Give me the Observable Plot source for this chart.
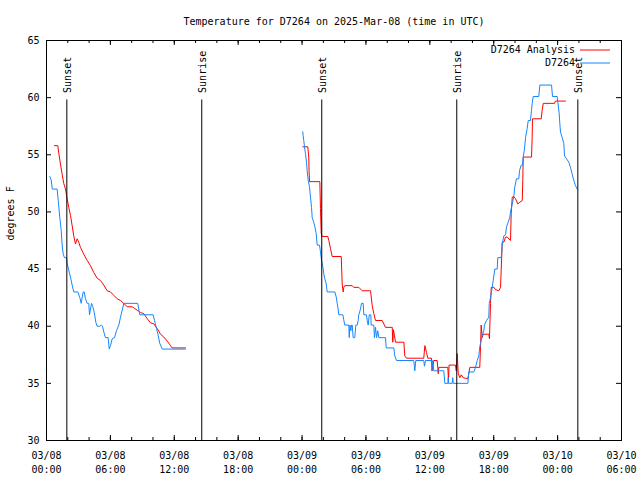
<!DOCTYPE html>
<html><head><meta charset="utf-8">
<script src="https://cdn.jsdelivr.net/npm/d3@7"></script>
<script src="https://cdn.jsdelivr.net/npm/@observablehq/plot@0.6"></script>
<style>body{margin:0;background:#fff} svg{display:block}</style>
</head><body><div id="chart"></div>
<script>
const titleText = "Temperature for D7264 on 2025-Mar-08 (time in UTC)";
const yLabel = "degrees F";
const seriesNames = ["D7264 Analysis", "D7264"];
const seriesColors = ["#ff0000", "#1686ff"];
const startTime = "2025-03-08T00:00:00Z";

// hours since 2025-03-08 00:00 UTC (null = gap in record)
const analysisHours = [0.75,1.06,1.16,1.31,1.47,1.62,1.78,1.94,2.09,2.25,2.41,2.56,2.72,2.88,3.03,3.19,3.5,3.82,4.13,4.44,4.76,5.07,5.38,5.7,6.01,6.32,6.64,6.95,7.26,7.58,8.05,8.52,8.83,9.14,9.46,9.77,10.08,10.4,10.71,11.02,11.34,11.65,11.8,13.05,null,
24.07,24.54,24.63,24.66,24.70,25.67,25.73,25.80,25.89,26.42,26.51,26.67,26.83,27.68,27.77,27.86,27.92,28.01,28.71,28.86,29.33,29.65,30.43,30.59,30.74,30.90,31.53,31.68,31.84,32.47,32.52,32.58,32.78,33.56,33.65,33.81,35.43,35.53,35.69,35.81,36.16,36.22,36.37,36.69,36.79,36.84,37.69,37.75,37.81,38.41,38.48,38.57,38.67,38.82,38.95,39.13,39.35,39.57,39.76,40.69,40.76,40.82,40.92,41.01,41.54,41.60,41.70,41.77,42.02,42.18,42.48,42.64,42.70,42.80,42.95,43.11,43.27,43.58,43.64,43.74,43.89,44.05,44.26,44.45,44.68,44.73,44.77,45.55,45.61,45.64,46.46,46.55,46.65,47.71,47.80,48.74];
const analysisTemps = [55.8,55.8,55.1,54.2,53.3,52.5,52.0,51.15,50.4,49.7,48.8,47.9,47.2,47.65,47.35,46.9,46.3,45.75,45.3,44.7,44.2,44.0,43.6,43.1,43.0,42.7,42.4,42.25,42.0,41.7,41.7,41.4,41.2,41.1,40.65,40.3,40.2,39.8,39.3,39.05,38.7,38.3,38.1,38.1,null,
55.7,55.7,54.8,53.5,52.65,52.65,50.3,48.1,47.85,47.85,47.5,46.8,46.1,46.1,43.7,43.0,43.4,43.55,43.55,43.4,43.4,43.1,43.1,41.8,41.1,40.5,40.5,40.2,39.9,39.9,38.6,39.7,38.6,38.6,37.4,37.2,37.2,38.3,37.7,37.2,37.2,36.1,37.0,37.0,35.85,36.4,36.4,35.25,36.6,36.6,36.1,37.6,35.85,35.5,35.75,35.5,35.45,35.4,36.4,36.4,38.2,40.1,39.0,39.3,39.3,38.9,42.0,43.4,43.4,43.2,43.1,43.4,44.9,47.35,47.35,47.8,47.8,47.5,49.85,51.3,51.35,51.15,50.7,50.85,51.0,52.75,54.8,54.8,56.5,58.15,58.15,58.9,59.5,59.5,59.7,59.7];

const obsHours = [0.31,0.44,0.54,1.0,1.10,1.25,1.38,1.47,1.57,1.69,1.88,1.94,2.09,2.25,2.41,2.56,2.94,3.13,3.26,3.35,3.45,3.54,3.66,3.82,3.97,4.04,4.13,4.23,4.35,4.44,4.54,4.63,4.76,5.01,5.14,5.26,5.38,5.54,5.79,5.89,6.01,6.17,6.39,6.57,6.79,6.95,7.11,7.26,8.57,8.76,10.02,10.14,10.33,10.49,10.64,10.87,13.05,null,
24.07,24.10,24.16,24.23,24.32,24.42,24.48,24.58,24.70,24.79,24.89,24.95,25.10,25.20,25.33,25.42,25.64,25.73,25.83,25.95,26.04,26.14,26.27,26.36,27.08,27.21,27.30,27.39,27.45,27.83,27.92,28.01,28.39,28.43,28.50,28.58,28.65,28.71,28.80,28.95,29.05,29.18,29.27,29.33,29.49,29.58,29.74,29.80,30.05,30.12,30.21,30.31,30.46,30.49,30.74,30.80,30.90,31.00,31.11,31.21,31.84,31.90,32.62,32.71,32.87,34.49,34.59,34.68,35.43,35.50,35.59,36.16,36.20,36.28,36.37,37.31,37.41,37.69,37.73,37.76,38.10,38.15,38.20,39.57,39.66,40.13,40.29,40.45,40.60,40.69,40.82,40.92,41.07,41.13,41.32,41.54,41.58,41.70,41.86,41.95,42.10,42.33,42.38,42.70,42.76,42.80,42.95,43.11,43.20,43.36,43.51,43.58,43.74,43.89,43.98,44.14,44.36,44.42,44.58,44.70,44.77,44.89,44.99,45.14,45.24,45.45,45.55,45.61,45.71,46.23,46.33,47.43,47.52,47.96,48.02,48.15,48.21,48.27,48.43,48.58,48.65,48.84,49.05,49.21,49.37,49.52,49.68,49.84];
const obsTemps = [53.1,52.8,52.0,52.0,51.0,49.5,48.4,47.1,46.3,46.0,46.0,45.5,44.9,44.3,43.6,43.0,43.0,42.5,42.0,42.5,43.0,43.0,42.4,42.0,42.0,41.0,41.5,42.0,41.7,41.4,40.9,40.35,40.0,40.0,40.1,40.0,39.5,39.0,39.0,38.0,38.3,38.9,39.0,39.6,40.1,40.8,41.4,42.0,42.0,41.0,41.0,40.5,39.8,39.2,38.5,38.0,38.0,null,
57.0,56.7,56.25,55.7,55.1,54.35,53.6,52.75,52.2,51.3,50.4,49.5,49.1,48.7,48.1,47.1,47.1,46.5,45.75,45.2,44.6,44.15,43.7,43.0,43.0,42.55,42.0,41.5,41.0,41.0,40.55,40.1,40.1,39.0,40.1,39.6,40.1,40.1,39.0,39.0,40.1,40.1,40.5,41.0,41.5,42.0,42.0,41.0,41.0,40.5,40.1,41.0,41.0,40.1,40.1,39.0,39.9,39.0,39.6,39.0,39.0,38.1,38.1,37.4,37.0,37.0,36.1,37.0,37.0,36.5,37.0,37.0,36.1,37.0,36.1,36.1,35.0,35.0,35.5,35.0,35.0,35.5,35.0,35.0,36.0,36.0,36.4,37.0,37.4,38.2,38.75,39.2,39.6,40.1,40.5,40.8,42.0,42.5,43.4,44.0,45.0,45.0,46.0,46.0,46.5,47.2,47.9,48.0,48.7,49.1,49.55,50.0,50.7,51.4,52.2,52.9,52.9,53.6,54.1,54.1,54.8,55.5,56.5,57.3,58.0,58.0,58.9,59.5,60.1,60.1,61.1,61.1,60.1,60.1,59.6,58.6,57.7,57.0,56.5,56.0,54.9,54.65,54.35,53.9,53.3,52.75,52.3,52.0];

const eventNames = ["Sunset", "Sunrise", "Sunset", "Sunrise", "Sunset"];
const eventHours = [1.91, 14.58, 25.85, 38.53, 49.9];
const eventTopTemp = 59.8;

const xMajorHours = [0, 6, 12, 18, 24, 30, 36, 42, 48, 54];
const xMinorHours = d3.range(0, 55, 2);
const yTicks = [30, 35, 40, 45, 50, 55, 60, 65];

// ---- build ----
const W = 640, H = 480, mL = 46, mR = 19, mT = 40, mB = 40;
const frameW = W - mL - mR, frameH = H - mT - mB;
const start = Date.parse(startTime);
const toDate = h => (h == null ? null : new Date(start + h * 3600000));
const rows = (hs, vs) => hs.map((h, i) => ({time: toDate(h), temp: vs[i]}));
const analysis = rows(analysisHours, analysisTemps);
const obs = rows(obsHours, obsTemps);
const events = eventNames.map((n, i) => ({name: n, time: toDate(eventHours[i])}));
const xMajor = xMajorHours.map(toDate);
const xMinor = xMinorHours.map(toDate);
const fmt = d3.utcFormat("%m/%d\n%H:%M");
const font = "'DejaVu Sans Mono', monospace";

const plot = Plot.plot({
  width: W, height: H,
  marginLeft: mL, marginRight: mR, marginTop: mT, marginBottom: mB,
  style: {fontFamily: font, fontSize: "10px", background: "white", color: "black", overflow: "visible"},
  x: {type: "utc", domain: [toDate(0), toDate(54)], axis: null},
  y: {domain: [30, 65], axis: null},
  marks: [
    Plot.tickX(xMinor, {x: d => d, insetTop: frameH - 3, stroke: "black"}),
    Plot.tickX(xMinor, {x: d => d, insetBottom: frameH - 3, stroke: "black"}),
    Plot.tickX(xMajor, {x: d => d, insetTop: frameH - 5, stroke: "black"}),
    Plot.tickX(xMajor, {x: d => d, insetBottom: frameH - 5, stroke: "black"}),
    Plot.tickY(yTicks, {y: d => d, insetRight: frameW - 5, stroke: "black"}),
    Plot.tickY(yTicks, {y: d => d, insetLeft: frameW - 5, stroke: "black"}),
    Plot.text(yTicks, {y: d => d, text: d => String(d), frameAnchor: "left", dx: -7, textAnchor: "end", fill: "black"}),
    Plot.text(xMajor, {x: d => d, text: d => fmt(d), frameAnchor: "bottom", dy: 9, lineAnchor: "top", lineHeight: 1.4, fill: "black"}),
    Plot.line(analysis, {x: "time", y: "temp", stroke: seriesColors[0], strokeWidth: 1}),
    Plot.line(obs, {x: "time", y: "temp", stroke: seriesColors[1], strokeWidth: 1}),
    Plot.ruleX(events, {x: "time", y1: 30, y2: eventTopTemp, stroke: "black", strokeWidth: 1}),
    Plot.text(events, {x: "time", y: eventTopTemp, text: "name", rotate: -90, textAnchor: "start", lineAnchor: "middle", dy: -7, dx: 1, fill: "black"}),
    Plot.frame({stroke: "black"}),
    Plot.text([titleText], {frameAnchor: "top", dy: -23, fill: "black"}),
    Plot.text([yLabel], {frameAnchor: "left", dx: -36, rotate: -90, fill: "black"})
  ]
});

// legend (top-right, inside frame)
const svg = d3.select(plot);
const lg = svg.append("g").attr("font-family", font).attr("font-size", 10);
seriesNames.forEach((name, i) => {
  const yy = 50 + i * 13;
  lg.append("text").attr("x", 575).attr("y", yy).attr("dy", "0.32em")
    .attr("text-anchor", "end").attr("fill", "black").text(name);
  lg.append("line").attr("x1", 580).attr("x2", 610).attr("y1", yy).attr("y2", yy)
    .attr("stroke", seriesColors[i]).attr("stroke-width", 1);
});

document.getElementById("chart").append(plot);
</script>
</body></html>
